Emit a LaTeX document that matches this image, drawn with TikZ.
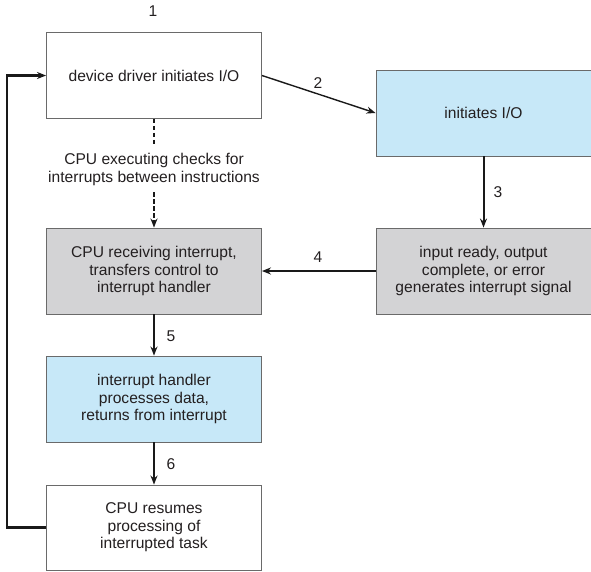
\documentclass[tikz,border=0pt]{standalone}
\usepackage{fontspec}
\setmainfont{Liberation Sans}
\usetikzlibrary{arrows.meta}
\definecolor{txt}{HTML}{231F20}
\definecolor{edge}{HTML}{6A6A6A}
\definecolor{bluefill}{HTML}{C7E8F8}
\definecolor{grayfill}{HTML}{D3D3D5}
\begin{document}
\begin{tikzpicture}[x=1pt,y=-1pt,
  font=\fontsize{15.6pt}{17.5pt}\selectfont, text=txt,
  box/.style={draw=edge, line width=0.9pt, minimum width=215pt, minimum height=86pt,
    align=center, inner sep=0pt},
  plainbox/.style={box, fill=white},
  bluebox/.style={box, fill=bluefill},
  graybox/.style={box, fill=grayfill},
  tip/.style={-{Stealth[length=9pt,width=7pt]}},
  conn/.style={draw=black!90, line width=2pt, tip},
  thinconn/.style={draw=black!90, line width=1.4pt, tip},
  dashconn/.style={draw=black!90, line width=2pt, dash pattern=on 4.5pt off 2.5pt},
  num/.style={inner sep=0pt}]
\useasboundingbox (0,0) rectangle (591,571);

% boxes
\node[plainbox] (drv) at (154,75.5) {device driver initiates I/O};
\node[bluebox]  (io)  at (483.5,113) {initiates I/O};
\node[graybox]  (cpu) at (154,271) {CPU receiving interrupt,\\transfers control to\\interrupt handler};
\node[graybox]  (sig) at (483.5,271) {input ready, output\\complete, or error\\generates interrupt signal};
\node[bluebox]  (hdl) at (154,399) {interrupt handler\\processes data,\\returns from interrupt};
\node[plainbox, minimum height=85pt] (res) at (154,527.5) {CPU resumes\\processing of\\interrupted task};

% note between the first two left boxes
\node[align=center, inner sep=0pt, minimum height=45pt] (chk) at (154,169.5)
  {CPU executing checks for\\interrupts between instructions};

% connectors
\draw[dashconn] (drv.south) -- (chk.north);
\draw[dashconn, tip] (chk.south) -- (cpu.north);
\draw[thinconn] (drv.east) -- (io.west);
\draw[conn] (io.south) -- (sig.north);
\draw[conn] (sig.west) -- (cpu.east);
\draw[conn] (cpu.south) -- (hdl.north);
\draw[conn] (hdl.south) -- (res.north);
\coordinate (loop) at (7,527.5);
\draw[conn, line width=2.4pt] (res.west) -- (loop) |- (drv.west);

% step numbers
\node[num] (n1) at (153,11) {1};
\node[num] (n2) at (318,83) {2};
\node[num] (n3) at (498,192) {3};
\node[num] (n4) at (318,257) {4};
\node[num] (n5) at (171,336) {5};
\node[num] (n6) at (171,464) {6};
\end{tikzpicture}
\end{document}
